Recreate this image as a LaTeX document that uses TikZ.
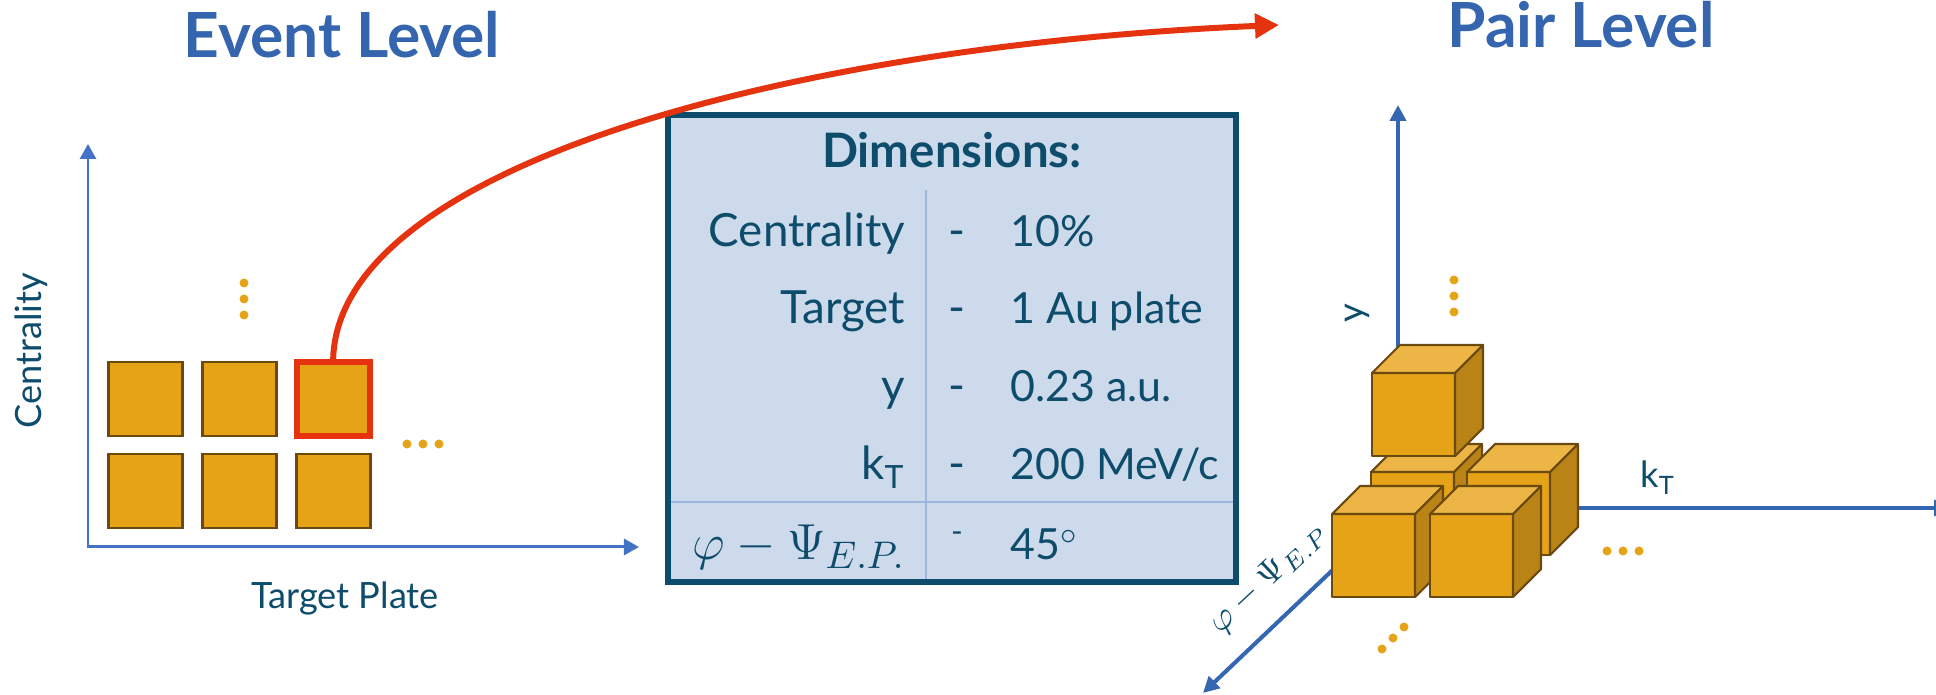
\documentclass[tikz,border=0pt]{standalone}
\usepackage{fontspec}
\setmainfont{Lato}
\usetikzlibrary{positioning,arrows.meta}
\definecolor{mtitle}{HTML}{3465AE}
\definecolor{mtext}{HTML}{0E4C6C}
\definecolor{maxis}{HTML}{4472C4}
\definecolor{maxisr}{HTML}{3466B2}
\definecolor{mred}{HTML}{E5330F}
\definecolor{mgold}{HTML}{E6A318}
\definecolor{mgoldtop}{HTML}{EDB446}
\definecolor{mgoldside}{HTML}{BA8316}
\definecolor{mbrown}{HTML}{6B4A10}
\definecolor{mboxfill}{HTML}{CCDAEB}
\definecolor{msep}{HTML}{9DB6DD}
\tikzset{
  leveltitle/.style={font=\fontsize{17.7}{20}\selectfont\bfseries, text=mtitle, anchor=base},
  axis label/.style={font=\fontsize{10.3}{12}\selectfont, text=mtext},
  axisline/.style={maxis, line width=0.85pt, {Triangle[length=1.5mm,width=1.6mm]}-{Triangle[length=1.5mm,width=1.6mm]}},
  axisline r/.style={maxisr, line width=1.15pt, -{Triangle[length=1.6mm,width=1.6mm]}},
  cell/.style={draw=mbrown, line width=0.8pt, fill=mgold, minimum size=0.74cm, inner sep=0, outer sep=0},
  cell picked/.style={cell, draw=mred, line width=1.7pt, minimum size=0.73cm},
  golddot/.style={fill=mgold},
  dimbox/.style={fill=mboxfill, minimum width=5.68cm, minimum height=4.67cm, inner sep=0, outer sep=0},
  dimframe/.style={draw=mtext, line width=1.7pt},
  sepline/.style={msep, line width=0.35pt},
  dim head/.style={font=\fontsize{13.5}{16}\selectfont\bfseries, text=mtext, anchor=base},
  dim key/.style={font=\fontsize{13}{15}\selectfont, text=mtext, anchor=base east, inner sep=0},
  dim val/.style={dim key, font=\fontsize{12.2}{15}\selectfont, anchor=base west},
  dim dash/.style={dim key, anchor=base},
  face front/.style={fill=mgold, draw=mbrown, line width=0.6pt, line join=round},
  face top/.style={face front, fill=mgoldtop},
  face side/.style={face front, fill=mgoldside},
  linkarrow/.style={mred, line width=1.7pt, -{Triangle[length=2.4mm,width=2.4mm]}}
}
% cube, front face top-left corner in px
\newcommand{\goldcube}[2]{%
  \filldraw[face front] (#1,#2) rectangle ++(83,83);
  \filldraw[face top] (#1,#2) -- ++(28,-28) -- ++(83,0) -- ++(-28,28) -- cycle;
  \filldraw[face side] (#1+83,#2) -- ++(28,-28) -- ++(0,83) -- ++(-28,28) -- cycle;
}

\begin{document}
\begin{tikzpicture}[x=0.01cm, y=-0.01cm]
  \useasboundingbox (0,0) rectangle (1936,695);
  \clip (0,0) rectangle (1936,695);

  % titles
  \node[leveltitle] (evtitle) at (342,58) {Event Level};
  \node[leveltitle] (pairtitle) at (1581,48) {Pair Level};

  % event level: axes
  \coordinate (evorig) at (88,547);
  \coordinate (centtip) at (88,144);
  \coordinate (platetip) at (639,547);
  \draw[axisline] (centtip) -- (evorig) -- (platetip);
  \node[axis label, rotate=90] (centlab) at (31,351) {Centrality};
  \node[axis label, anchor=base] (platelab) at (345,609) {Target Plate};

  % event level: cells
  \node[cell] (c11) at (145.5,399) {};
  \node[cell, right=0.2cm of c11] (c12) {};
  \node[cell picked, right=0.2cm of c12] (pick) {};
  \node[cell, below=0.18cm of c11] (c21) {};
  \node[cell, right=0.2cm of c21] (c22) {};
  \node[cell, right=0.2cm of c22] (c23) {};
  \foreach \yy in {283,299,315} \fill[golddot] (244,\yy) circle[radius=0.045cm];
  \foreach \xx in {407,423,439} \fill[golddot] (\xx,444) circle[radius=0.045cm];

  % pair level: axes
  \coordinate (pairorig) at (1398,508);
  \coordinate (ytip) at (1398,105);
  \coordinate (kttip) at (1950,508);
  \coordinate (phitip) at (1203,693);
  \draw[axisline r] (pairorig) -- (ytip);
  \draw[axisline r] (pairorig) -- (kttip);
  \draw[axisline r] (pairorig) -- (phitip);
  \node[axis label, rotate=90] (ylab) at (1357,313) {y};
  \node[axis label, anchor=base] (ktlab) at (1658,488) {k\textsubscript{T}};
  \node[axis label, rotate=43, font=\fontsize{9.8}{12}\selectfont] (philab) at (1268,578) {$\varphi - \Psi_{E.P}$};

  % pair level: cubes
  \goldcube{1371}{472}
  \goldcube{1467}{472}
  \goldcube{1372}{373}
  \goldcube{1332}{514}
  \goldcube{1430}{514}
  \foreach \yy in {280,296,312} \fill[golddot] (1454,\yy) circle[radius=0.045cm];
  \foreach \xx in {1607,1623,1639} \fill[golddot] (\xx,551) circle[radius=0.045cm];
  \foreach \xx/\yy in {1382/649,1393/638,1404/627} \fill[golddot] (\xx,\yy) circle[radius=0.045cm];

  % dimensions table
  \node[dimbox] (dims) at (952,348.5) {};
  \coordinate (sepv) at (926,190);
  \coordinate (seph) at (668,502);
  \draw[sepline] (sepv) -- (sepv |- dims.south);
  \draw[sepline] (dims.west |- seph) -- (dims.east |- seph);
  \draw[dimframe] (dims.north west) rectangle (dims.south east);
  \node[dim head] (dimhead) at (952,168) {Dimensions:};
  \foreach \i/\key/\val/\yy in {1/Centrality/10\%/247, 2/Target/1 Au plate/324, 3/y/0.23 a.u./402, 4/{k\textsubscript{T}}/{200 MeV/c}/480} {
    \node[dim key] (key\i) at (906,\yy) {\key};
    \node[dim dash] (dash\i) at (957,\yy) {-};
    \node[dim val] (val\i) at (1010,\yy) {\val};
  }
  \node[dim key, font=\fontsize{15}{17}\selectfont] (key5) at (906,560) {$\varphi - \Psi_{E.P.}$};
  \node[dim dash, font=\fontsize{9}{10}\selectfont] (dash5) at (957,543) {-};
  \node[dim val] (val5) at (1010,560) {45$^\circ$};

  % link to pair level
  \coordinate (linktip) at (1279,25);
  \draw[linkarrow] (pick.north) .. controls +(0,-198) and (800,45) .. (linktip);
\end{tikzpicture}
\end{document}
